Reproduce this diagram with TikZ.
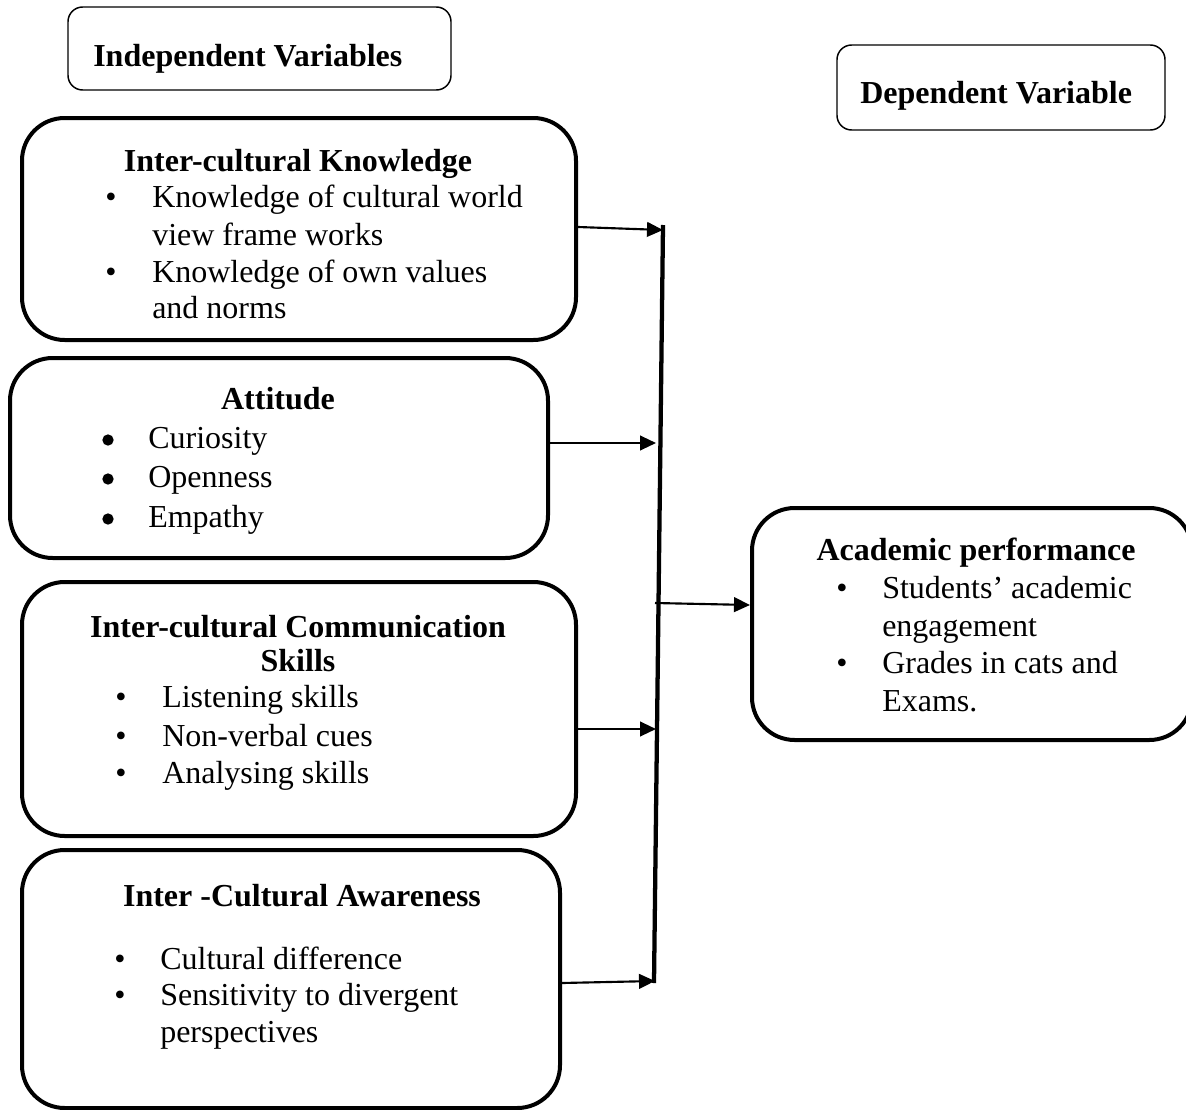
\documentclass[tikz,border=0pt]{standalone}
\usepackage{fontspec}
\setmainfont{Liberation Serif}
\usetikzlibrary{arrows.meta,fit}
\begin{document}
\begin{tikzpicture}[x=0.75pt,y=-0.75pt,
  bigbox/.style={draw, line width=3pt, rounded corners=32pt, inner sep=0pt},
  smallbox/.style={draw, line width=1.1pt, rounded corners=11pt, inner sep=0pt},
  txt/.style={inner sep=0pt, anchor=base west, font=\fontsize{24}{28}\selectfont},
  head/.style={inner sep=0pt, anchor=base, font=\fontsize{24}{28}\selectfont\bfseries},
  bul/.style={inner sep=0pt, anchor=base, font=\fontsize{24}{28}\selectfont},
  dotbul/.style={circle, fill, inner sep=0pt, minimum size=8.5pt},
  arr/.style={line width=1.6pt, -{Triangle[length=12pt,width=11pt]}},
  vline/.style={line width=3.2pt}
]
\useasboundingbox (0,0) rectangle (1186,1110);

% header boxes
\node[smallbox, fit={(68,7) (451,90)}] (ind) {};
\node[head, anchor=base west] (indt) at (93,66) {Independent Variables};
\node[smallbox, fit={(837,45) (1165,130)}] (dep) {};
\node[head, anchor=base west] (dept) at (860,103) {Dependent Variable};

% box 1
\node[bigbox, fit={(22,118) (576,340)}] (b1) {};
\node[head] (b1h) at (298,171) {Inter-cultural Knowledge};
\node[bul] (b1b1) at (111,207) {•};
\node[txt] (b1l1) at (152,207) {Knowledge of cultural world};
\node[txt] (b1l2) at (152,245) {view frame works};
\node[bul] (b1b2) at (111,282) {•};
\node[txt] (b1l3) at (152,282) {Knowledge of own values};
\node[txt] (b1l4) at (152,318) {and norms};

% box 2
\node[bigbox, fit={(10,358) (548,558)}] (b2) {};
\node[head] (b2h) at (278,409) {Attitude};
\node[dotbul] (b2d1) at (108,440) {};
\node[txt] (b2l1) at (148,448) {Curiosity};
\node[dotbul] (b2d2) at (108,479) {};
\node[txt] (b2l2) at (148,487) {Openness};
\node[dotbul] (b2d3) at (108,519) {};
\node[txt] (b2l3) at (148,527) {Empathy};

% box 3
\node[bigbox, fit={(22,582) (576,836)}] (b3) {};
\node[head] (b3h) at (298,637) {Inter-cultural Communication};
\node[head] (b3h2) at (298,671) {Skills};
\node[bul] (b3b1) at (121,707) {•};
\node[txt] (b3l1) at (162,707) {Listening skills};
\node[bul] (b3b2) at (121,746) {•};
\node[txt] (b3l2) at (162,746) {Non-verbal cues};
\node[bul] (b3b3) at (121,783) {•};
\node[txt] (b3l3) at (162,783) {Analysing skills};

% box 4
\node[bigbox, fit={(22,850) (560,1108)}] (b4) {};
\node[head] (b4h) at (302,906) {Inter -Cultural Awareness};
\node[bul] (b4b1) at (120,969) {•};
\node[txt] (b4l1) at (160,969) {Cultural difference};
\node[bul] (b4b2) at (120,1005) {•};
\node[txt] (b4l2) at (160,1005) {Sensitivity to divergent};
\node[txt] (b4l3) at (160,1042) {perspectives};

% right box
\node[bigbox, fit={(752,508) (1192,740)}] (br) {};
\node[head] (brh) at (976,560) {Academic performance};
\node[bul] (brb1) at (842,598) {•};
\node[txt] (brl1) at (882,598) {Students’ academic};
\node[txt] (brl2) at (882,636) {engagement};
\node[bul] (brb2) at (842,673) {•};
\node[txt] (brl3) at (882,673) {Grades in cats and};
\node[txt] (brl4) at (882,711) {Exams.};

% vertical collector line
\coordinate (vt) at (663,225);
\coordinate (vb) at (654,983);
\draw[vline] (vt) -- (vb);

% arrow tips / starts
\coordinate (t1) at (663,230);
\coordinate (t2) at (656,443);
\coordinate (t3) at (656,729);
\coordinate (t4) at (655,981);
\coordinate (s5) at (655,603);

\draw[arr] (b1.east |- 0,227) -- (t1);
\draw[arr] (b2.east |- 0,443) -- (t2);
\draw[arr] (b3.east |- 0,729) -- (t3);
\draw[arr] (b4.east |- 0,983) -- (t4);
\draw[arr] (s5) -- (br.west |- 0,605);
\end{tikzpicture}
\end{document}
